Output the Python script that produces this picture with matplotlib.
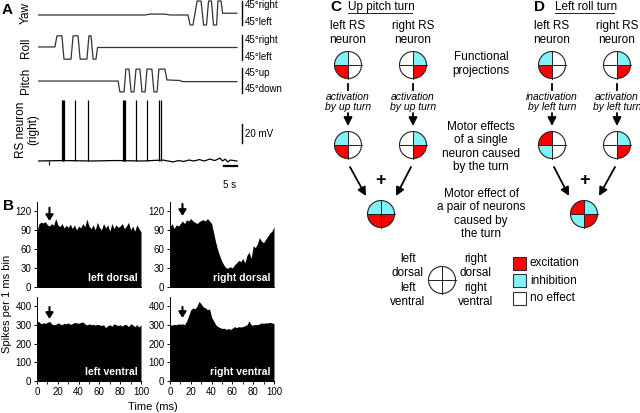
import matplotlib
matplotlib.use("Agg")
import matplotlib.pyplot as plt
from matplotlib.patches import Wedge, Circle, Rectangle

plt.rcParams['font.family'] = ['Liberation Sans', 'DejaVu Sans']

W, H = 640, 413

# ---------------- data: panel A (time in s, angles in deg, Vm in mV) -------------
yaw_t = [0, 41.2, 43.1, 48.8, 50.8, 57.7, 58.5, 59.6, 61.2, 62.7, 63.7, 64.8,
         65.6, 66.7, 67.5, 68.7, 69.2, 70.4, 71.0, 76.5]
yaw_deg = [-7.5, -7.5, -4, -4, -7.5, -7.5, -45, -45, 45, 45, -45, -45,
           45, 45, -45, -45, 45, 45, -1, -1]

roll_t = [0, 6.5, 7.3, 9.2, 10.0, 12.7, 13.5, 15.4, 16.2, 18.8, 19.6, 20.4,
          21.2, 22.3, 22.9, 76.5]
roll_deg = [2, 2, 42, 42, -42, -42, 42, 42, -42, -42, 42, 42, -42, -42, 0, 0]

pitch_t = [0, 30.8, 31.5, 33.1, 33.8, 35.0, 35.8, 36.9, 37.7, 39.2, 40.0, 41.2,
           41.9, 43.8, 44.6, 45.8, 46.5, 48.8, 49.6, 54.6, 55.4, 76.5]
pitch_deg = [-2, -2, -41, -41, 41, 41, -41, -41, 41, 41, -41, -41,
             41, 41, -41, -41, 41, 41, 2, 0, -4, -4]

vm_t = [0, 10, 20, 30, 40, 48, 50, 52, 54, 56, 58, 60, 62, 64, 66, 68, 70, 71,
        72, 73, 74, 76.5]
vm_mv = [0, 0.5, 0, 0.5, 0, 1, 0, -1, 0.5, -0.5, 1, 0, 1.5, 0, 2, 0.5, 3, 0,
         2, -1, 1, 0]
spike_t = [9.4, 9.8, 10.1, 14.2, 19.3, 32.7, 33.1, 33.5, 37.7, 41.8, 46.7, 47.3]
spike_peak = 64

# ---------------- data: panel B (PSTH, 2 ms steps) -------------------------------
time_ms = list(range(0, 101, 2))
left_dorsal = [88, 100, 102, 101, 103, 98, 96, 100, 97, 108, 98, 95, 100, 93, 97,
               94, 99, 92, 98, 90, 96, 93, 100, 95, 107, 96, 92, 98, 90, 102, 94,
               90, 100, 93, 98, 88, 100, 92, 98, 94, 96, 100, 92, 96, 102, 90, 96,
               88, 98, 92, 87]
right_dorsal = [95, 100, 92, 98, 96, 100, 104, 100, 106, 104, 108, 104, 102, 100,
                103, 105, 106, 104, 108, 104, 100, 85, 70, 58, 48, 40, 34, 30, 30,
                32, 30, 35, 38, 42, 40, 45, 38, 50, 55, 45, 65, 62, 68, 78, 72, 70,
                75, 80, 85, 88, 95]
left_ventral = [320, 315, 305, 310, 308, 312, 318, 305, 300, 302, 310, 305, 300,
                308, 305, 310, 302, 306, 312, 310, 308, 312, 315, 305, 298, 305,
                300, 302, 298, 302, 300, 296, 300, 285, 295, 300, 292, 305, 300,
                296, 300, 292, 302, 300, 290, 305, 300, 290, 300, 288, 300]
right_ventral = [300, 298, 302, 300, 305, 302, 305, 300, 320, 350, 380, 390, 385,
                 400, 425, 410, 395, 390, 380, 385, 340, 320, 300, 290, 285, 280,
                 282, 275, 280, 275, 282, 290, 285, 290, 288, 290, 295, 300, 320,
                 300, 298, 302, 300, 305, 310, 308, 310, 310, 312, 310, 305]
arrow_ms = 12

# ---------------- data: panels C/D (quadrants TL, TR, BL, BR) --------------------
c_left = ['I', 'N', 'E', 'N']
c_right = ['N', 'I', 'N', 'E']
c_left_turn = ['I', 'N', 'E', 'N']
c_right_turn = ['N', 'I', 'N', 'E']
c_pair = ['I', 'I', 'E', 'E']
d_left = ['I', 'N', 'E', 'N']
d_right = ['N', 'I', 'N', 'E']
d_left_turn = ['E', 'N', 'I', 'N']
d_right_turn = ['N', 'I', 'N', 'E']
d_pair = ['E', 'I', 'I', 'E']
effect_colors = {'E': '#ff0000', 'I': '#80f2f8', 'N': 'white'}
effect_labels = ['excitation', 'inhibition', 'no effect']

fig = plt.figure(figsize=(W / 100, H / 100), dpi=100)


def px_axes(x0, y0, x1, y1):
    return fig.add_axes([x0 / W, 1 - y1 / H, (x1 - x0) / W, (y1 - y0) / H])


# overlay for text and diagrams, pixel coords (y down)
ov = fig.add_axes([0, 0, 1, 1])
ov.set_xlim(0, W)
ov.set_ylim(H, 0)
ov.axis('off')

# ---------------- panel A ---------------------------------------------------------
tmax = (250 - 38) / 2.6
bar_t = (242 - 38) / 2.6
for (y0, y1, lim, tt, vv, name, top, bot) in [
        (0, 26, 48.75, yaw_t, yaw_deg, 'Yaw', '45°right', '45°left'),
        (34, 61, 48.6, roll_t, roll_deg, 'Roll', '45°right', '45°left'),
        (67, 94, 48.6, pitch_t, pitch_deg, 'Pitch', '45°up', '45°down')]:
    ax = px_axes(38, y0, 250, y1)
    ax.plot(tt, vv, color='#333333', lw=0.9)
    ax.plot([bar_t, bar_t], [-45, 45], color='k', lw=1.0, clip_on=False)
    ax.set_xlim(0, tmax)
    ax.set_ylim(-lim, lim)
    ax.axis('off')
    ax.patch.set_alpha(0)
    ym = (y0 + y1) / 2
    ov.text(26, ym, name, rotation=90, ha='center', va='center', fontsize=8.5)
    ov.text(245, ym - 7.5, top, ha='left', va='center', fontsize=7)
    ov.text(245, ym + 9, bot, ha='left', va='center', fontsize=7)

ax = px_axes(38, 95, 250, 170)
ax.plot(vm_t, vm_mv, color='k', lw=0.9)
ax.vlines(spike_t, 0, spike_peak, color='k', lw=0.9)
ax.vlines([4.2], -4, 0, color='k', lw=0.8)
ax.plot([bar_t, bar_t], [19, 39], color='k', lw=1.0)
ax.plot([71.5, 76.5], [-5, -5], color='k', lw=1.6)
ax.set_xlim(0, tmax)
ax.set_ylim((161 - 170) * 20 / 19, (161 - 95) * 20 / 19)
ax.axis('off')
ax.patch.set_alpha(0)
ov.text(27, 130, 'RS neuron\n(right)', rotation=90, ha='center', va='center',
        fontsize=8.5, linespacing=1.1)
ov.text(245, 134, '20 mV', ha='left', va='center', fontsize=7)
ov.text(230, 185, '5 s', ha='center', va='center', fontsize=7)
ov.text(2, 10, 'A', fontsize=11, fontweight='bold', ha='left', va='center')

# ---------------- panel B ---------------------------------------------------------
panels = [
    (37, 141, 202, 287, 134, left_dorsal, 'left dorsal', [0, 30, 60, 90, 120], (125, 104)),
    (170, 274, 202, 287, 134, right_dorsal, 'right dorsal', [0, 30, 60, 90, 120], (131, 112)),
    (37, 141, 297, 381, 448, left_ventral, 'left ventral', [0, 100, 200, 300, 400], (395, 331)),
    (170, 274, 297, 381, 448, right_ventral, 'right ventral', [0, 100, 200, 300, 400], (395, 336)),
]
for i, (x0, x1, y0, y1, ymax, vals, lab, yt, arr) in enumerate(panels):
    ax = px_axes(x0, y0, x1, y1)
    ax.patch.set_alpha(0)
    ax.fill_between(time_ms, 0, vals, color='k', lw=0)
    ax.set_xlim(0, 100)
    ax.set_ylim(0, ymax)
    ax.set_yticks(yt)
    ax.set_xticks(range(0, 101, 20))
    ax.set_xticks(range(0, 101, 10), minor=True)
    ax.spines['top'].set_visible(False)
    ax.spines['right'].set_visible(False)
    ax.spines['left'].set_linewidth(0.7)
    ax.spines['bottom'].set_linewidth(0.7)
    ax.tick_params(labelsize=7, length=2.5, width=0.7, pad=1.5)
    ax.tick_params(which='minor', length=2, width=0.6)
    if i < 2:
        ax.tick_params(axis='x', which='both', labelbottom=False, length=0)
    ax.text(97, ymax * 0.05, lab, color='white', fontweight='bold', fontsize=7.5,
            ha='right', va='bottom')
    ax.annotate('', xy=(arrow_ms, arr[1]), xytext=(arrow_ms, arr[0]),
                arrowprops=dict(arrowstyle='-|>,head_width=0.22,head_length=0.35',
                                lw=1.5, color='k', shrinkA=0, shrinkB=0))

ov.text(7, 304, 'Spikes per 1 ms bin', rotation=90, ha='center', va='center',
        fontsize=8)
ov.text(153, 407, 'Time (ms)', ha='center', va='center', fontsize=8)
ov.text(3, 206, 'B', fontsize=11, fontweight='bold', ha='left', va='center')

# ---------------- panels C / D ----------------------------------------------------
# with y pointing down: TL=180-270, TR=270-360, BL=90-180, BR=0-90
quad_angles = [(180, 270), (270, 360), (90, 180), (0, 90)]


def draw_circle(cx, cy, codes, r=13.5):
    for (a0, a1), c in zip(quad_angles, codes):
        ov.add_patch(Wedge((cx, cy), r, a0, a1, facecolor=effect_colors[c],
                           edgecolor='none'))
    ov.add_patch(Circle((cx, cy), r, facecolor='none', edgecolor='#222222', lw=0.8))
    ov.plot([cx - r, cx + r], [cy, cy], color='#222222', lw=0.7)
    ov.plot([cx, cx], [cy - r, cy + r], color='#222222', lw=0.7)


def arrow(x0, y0, x1, y1):
    ov.annotate('', xy=(x1, y1), xytext=(x0, y0),
                arrowprops=dict(arrowstyle='-|>,head_width=0.25,head_length=0.5',
                                lw=1.3, color='k', shrinkA=0, shrinkB=0))


for (letter, lx, title, tx0, tx1, xl, xr, xp, first, second, pair, acts) in [
        ('C', 330, 'Up pitch turn', 348, 412, 348, 413, 381,
         (c_left, c_right), (c_left_turn, c_right_turn), c_pair,
         ('activation\nby up turn', 'activation\nby up turn')),
        ('D', 534, 'Left roll turn', 555, 614, 552, 617, 584,
         (d_left, d_right), (d_left_turn, d_right_turn), d_pair,
         ('inactivation\nby left turn', 'activation\nby left turn'))]:
    ov.text(lx, 7, letter, fontsize=11, fontweight='bold', ha='left', va='center')
    ov.text(tx0, 7, title, fontsize=8.5, ha='left', va='center')
    ov.plot([tx0, tx1], [13, 13], color='k', lw=0.6)
    for x, lab, c1, c2, act in [(xl, 'left RS\nneuron', first[0], second[0], acts[0]),
                                (xr, 'right RS\nneuron', first[1], second[1], acts[1])]:
        ov.text(x, 33, lab, ha='center', va='center', fontsize=8.5, linespacing=1.15)
        draw_circle(x, 65, c1)
        ov.plot([x, x], [84, 90], color='k', lw=1.3)
        ov.text(x, 102, act, ha='center', va='center', fontsize=7.5, style='italic',
                linespacing=1.1)
        arrow(x, 113, x, 126)
        draw_circle(x, 145, c2)
    arrow(xl + 2, 167, xp - 15, 196)
    arrow(xr - 2, 167, xp + 15, 196)
    ov.text(xp, 180, '+', ha='center', va='center', fontsize=13, fontweight='bold')
    draw_circle(xp, 214, pair)

ov.text(481, 64, 'Functional\nprojections', ha='center', va='center', fontsize=8.5,
        linespacing=1.15)
ov.text(481, 147, 'Motor effects\nof a single\nneuron caused\nby the turn',
        ha='center', va='center', fontsize=8.5, linespacing=1.15)
ov.text(481, 214, 'Motor effect of\na pair of neurons\ncaused by\nthe turn',
        ha='center', va='center', fontsize=8.5, linespacing=1.15)

draw_circle(442, 280, ['N', 'N', 'N', 'N'])
ov.text(408, 266, 'left\ndorsal', ha='center', va='center', fontsize=8.5, linespacing=1.15)
ov.text(408, 295, 'left\nventral', ha='center', va='center', fontsize=8.5, linespacing=1.15)
ov.text(476, 266, 'right\ndorsal', ha='center', va='center', fontsize=8.5, linespacing=1.15)
ov.text(476, 295, 'right\nventral', ha='center', va='center', fontsize=8.5, linespacing=1.15)

for i, (code, lab) in enumerate(zip(['E', 'I', 'N'], effect_labels)):
    yy = 263 + i * 17.5
    ov.add_patch(Rectangle((513, yy - 6.5), 13, 13, facecolor=effect_colors[code],
                           edgecolor='#333333', lw=0.8))
    ov.text(530, yy, lab, ha='left', va='center', fontsize=8.5)

fig.savefig('out.png', dpi=100)
